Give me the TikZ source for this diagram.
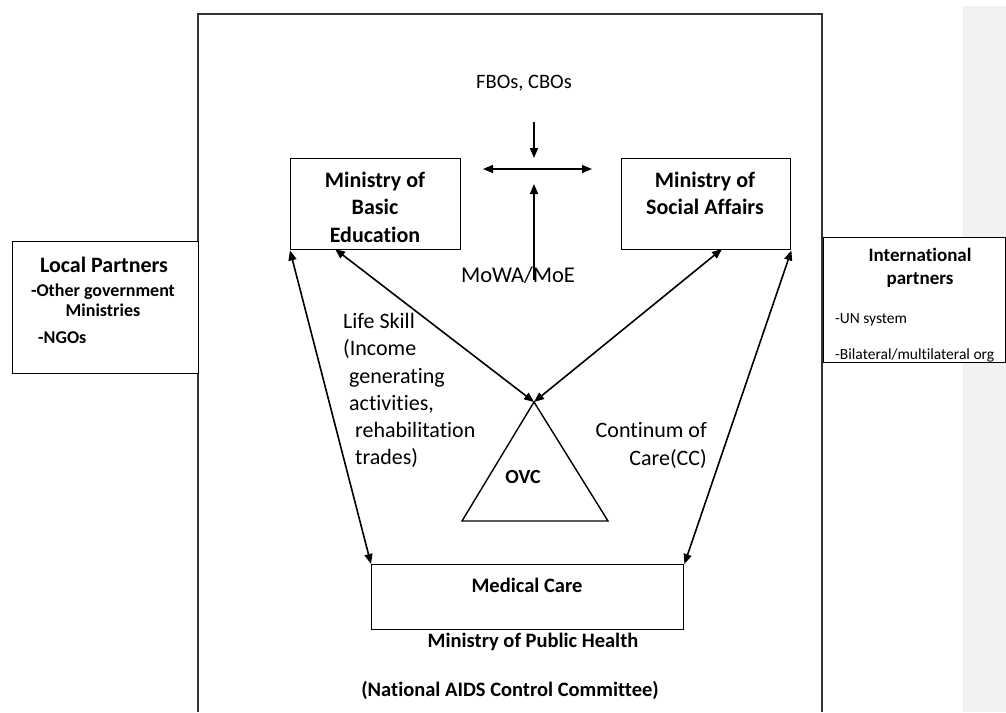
\documentclass[tikz,border=0pt]{standalone}
\usepackage{fontspec}
\setmainfont{Carlito}[Ligatures=NoCommon]
\usetikzlibrary{arrows.meta}
\newcommand{\fs}[2]{\fontsize{#1}{#2}\selectfont}
\begin{document}
\begin{tikzpicture}[x=1pt,y=-1pt,
  box/.style={draw, line width=1.4pt, inner sep=0pt, anchor=north west, fill=white},
  conn/.style={line width=1.6pt, {Triangle[length=10pt,width=8pt]}-{Triangle[length=10pt,width=8pt]}},
  one/.style={line width=1.6pt, -{Triangle[length=10pt,width=8pt]}},
  lbl/.style={inner sep=0pt, align=center},
  lbll/.style={inner sep=0pt, anchor=west}]
\useasboundingbox (0,0) rectangle (1006,712);
% gray strip
\fill[black!5] (963,6) rectangle (1006,712);
% outer frame
\draw[line width=2.2pt, black!80] (198,712) -- (198,14) -- (822,14) -- (822,712);
% boxes
\node[box, minimum width=186pt, minimum height=132pt] (lp) at (12,241) {};
\node[box, minimum width=182pt, minimum height=125pt] (ip) at (823,237) {};
\node[box, minimum width=170pt, minimum height=91pt] (mbe) at (290,158) {};
\node[box, minimum width=169pt, minimum height=91pt] (msa) at (621,158) {};
\node[box, minimum width=312pt, minimum height=65pt] (med) at (371,564) {};
% texts
\node[lbl, font=\bfseries\fs{22}{26}] (lpT) at (104,265) {Local Partners};
\node[lbl, font=\bfseries\fs{18}{20.5}] (lpO) at (103,300) {-Other government\\Ministries};
\node[lbll, font=\bfseries\fs{18}{20}] (lpN) at (38,338) {-NGOs};
\node[lbl, font=\bfseries\fs{19}{23}] (ipT) at (920,268) {International\\partners};
\node[lbll, font=\fs{15.5}{19}] (ipU) at (835,320) {-UN system};
\node[lbll, font=\fs{15.5}{19}] (ipB) at (835,355) {-Bilateral/multilateral org};
\node[lbl, font=\bfseries\fs{22}{27.5}] (mbeT) at (375,207) {Ministry of\\Basic\\Education};
\node[lbl, font=\bfseries\fs{22}{27.5}] (msaT) at (705,193.5) {Ministry of\\Social Affairs};
\node[lbl, font=\fs{20.5}{24}] (fbo) at (524,83) {FBOs, CBOs};
\node[lbl, font=\fs{22.5}{26}] (mowa) at (518,275) {MoWA/MoE};
\node[inner sep=0pt, align=left, anchor=north west, font=\fs{22}{27.3}] (life) at (343,313)
  {Life Skill\\(Income\\\hspace*{6pt}generating\\\hspace*{6pt}activities,\\\hspace*{12pt}rehabilitation\\\hspace*{12pt}trades)};
\node[inner sep=0pt, align=right, anchor=east, font=\fs{22}{28}] (cc) at (707,445) {Continum of\\Care(CC)};
\node[lbl, font=\bfseries\fs{20}{24}] (ovc) at (523,477) {OVC};
\node[lbl, font=\bfseries\fs{20.5}{24}] (medT) at (527,585) {Medical Care};
\node[lbl, font=\bfseries\fs{20.5}{24}] (mph) at (533,642) {Ministry of Public Health};
\node[lbl, font=\bfseries\fs{20.5}{24}] (nac) at (510,690) {(National AIDS Control Committee)};
% triangle
\coordinate (apex) at (534,402);
\coordinate (bR) at (608,521);
\coordinate (bL) at (462,521);
\draw[line width=1.4pt] (apex) -- (bR) -- (bL) -- cycle;
% connectors
\coordinate (mbeB) at (335,249);
\coordinate (msaB) at (722,249);
\draw[conn] (mbe.south west) -- (med.north west);
\draw[conn] (msa.south east) -- (med.north east);
\draw[conn] (mbeB) -- (apex);
\draw[conn] (msaB) -- (apex);
% top cross arrows
\coordinate (fTop) at (534,122);
\coordinate (fEnd) at (534,158);
\coordinate (hL) at (483,169);
\coordinate (hR) at (592,169);
\coordinate (uBot) at (534,280);
\coordinate (uTop) at (534,184);
\draw[one] (fTop) -- (fEnd);
\draw[conn] (hL) -- (hR);
\draw[one] (uBot) -- (uTop);
\end{tikzpicture}
\end{document}
